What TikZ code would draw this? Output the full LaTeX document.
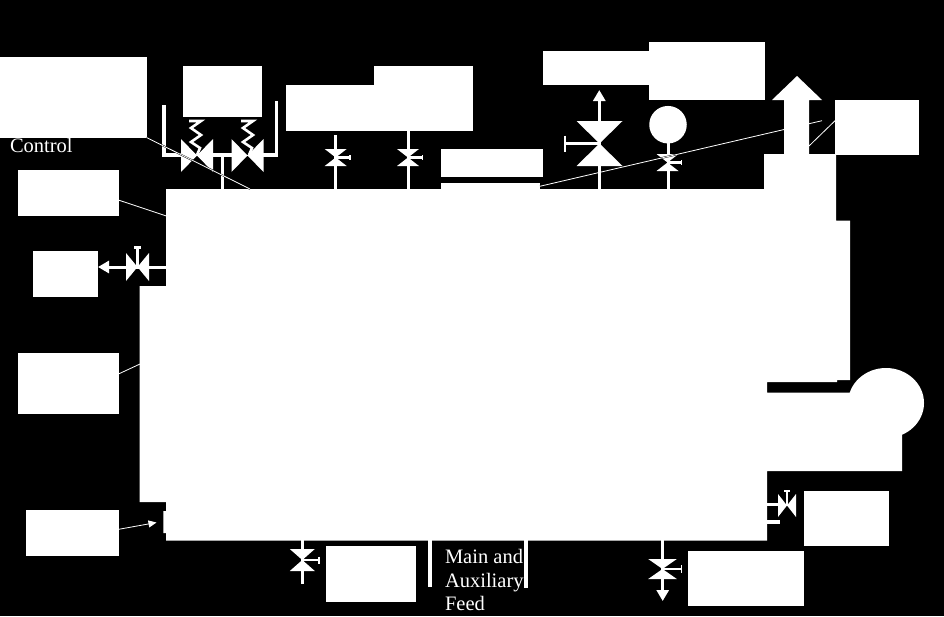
\documentclass[tikz,border=0pt]{standalone}
\usepackage{fontspec}
\setmainfont{Liberation Serif}
\usetikzlibrary{arrows.meta,shapes.geometric}
\definecolor{ink}{gray}{1}
\tikzset{
  x=1pt,y=-1pt,
  whitebox/.style={fill=ink,draw=none,inner sep=0pt,outer sep=0pt,anchor=north west},
  pipe/.style={draw=ink,line width=3.4pt,line cap=butt,line join=miter},
  thinpipe/.style={draw=ink,line width=3pt},
  handlebar/.style={draw=ink,line width=2.6pt},
  leaderline/.style={draw=ink,line width=0.8pt},
  cased/.style={preaction={draw=black,line width=1.6pt}},
  flowtip/.style={-{Triangle[width=12pt,length=11pt,fill=ink]}},
  labeltext/.style={text=ink,inner sep=0pt,outer sep=0pt,anchor=base west,font=\fontsize{20.5}{24}\selectfont},
  springline/.style={draw=ink,line width=2.6pt,line join=miter}
}
% box: name, x1, y1, x2, y2
\newcommand{\plainbox}[5]{%
  \pgfmathsetmacro{\bw}{#4-#2}\pgfmathsetmacro{\bh}{#5-#3}%
  \node[whitebox,minimum width=\bw pt,minimum height=\bh pt] (#1) at (#2,#3) {};}
% bowtie on a vertical pipe: cx, cy, half width, half height
\newcommand{\bowV}[4]{\fill[ink] (#1-#3,#2-#4) -- (#1+#3,#2-#4) -- (#1-#3,#2+#4) -- (#1+#3,#2+#4) -- cycle;}
% bowtie on a horizontal pipe
\newcommand{\bowH}[4]{\fill[ink] (#1-#3,#2-#4) -- (#1+#3,#2+#4) -- (#1+#3,#2-#4) -- (#1-#3,#2+#4) -- cycle;}
\newcommand{\springat}[1]{\draw[springline] (#1-8,121) -- (#1+4,121) -- (#1-6,128) -- (#1+4,135) -- (#1-6,142) -- (#1+3,148) -- (#1,155);}
\begin{document}
\begin{tikzpicture}
\fill[black] (0,0) rectangle (944,616);
\useasboundingbox (0,0) rectangle (944,616);

% labelled boxes
\plainbox{boxA}{0}{57}{146.5}{137.5}
\plainbox{boxB}{182.5}{66}{262}{117}
\plainbox{boxC}{18}{170}{119}{215.5}
\plainbox{boxD}{33}{251}{98}{297}
\plainbox{boxE}{18}{352.5}{119}{414}
\plainbox{boxF}{26}{510}{119}{555.5}
\plainbox{boxG}{326}{546}{415.5}{601.5}
\plainbox{boxH}{688}{551}{804}{606}
\plainbox{boxI}{804}{491}{889}{546}
\plainbox{boxJ}{835}{99.5}{919}{155}
\plainbox{boxK}{286}{85}{375}{130.5}
\plainbox{boxKb}{374}{66}{473}{130.5}
\plainbox{boxL}{542.5}{51}{650}{85}
\plainbox{boxLb}{649}{42}{765}{99.5}
\plainbox{boxM}{441}{148.5}{542.5}{177}
\plainbox{stripM}{440.5}{182.5}{540}{190}

% small gate valve at the top right (drawn before the long leader crosses it)
\node[whitebox,circle,anchor=center,minimum size=37.5pt] (gauge) at (668,124.7) {};
\coordinate (gaugeFoot) at (668,190);
\draw[thinpipe] (gauge) -- (gaugeFoot);
\bowV{667.5}{162.5}{11}{8.5}
\coordinate (gaugeCap) at (682,162.3);
\draw[handlebar] (667.5,162.3) -- (gaugeCap);
\draw[handlebar,line width=1.5pt] (681.5,160) -- (681.5,164.6);

% long leader to the far side of the stack
\coordinate (stackLabelEnd) at (822,120.7);
\draw[leaderline,cased] (stripM.east) -- (stackLabelEnd);

% boiler body with stack, superheater step and drum
\fill[ink] (166,189) -- (764,189) -- (764,154) -- (784,154) -- (784,100) -- (772,100)
  -- (797,76) -- (822,100) -- (809,100) -- (809,154) -- (836,154) -- (836,220.5)
  -- (850,220.5) -- (850,380) -- (837,380) -- (837,382) -- (767,382) -- (767,392.7)
  -- (850,392.7) -- (902,392.7) -- (902,471) -- (767,471) -- (767,540.5) -- (166,540.5)
  -- (166,533) -- (163.3,533) -- (163.3,511) -- (166,511) -- (166,502) -- (139.7,502)
  -- (139.7,286) -- (166,286) -- cycle;
\node[whitebox,ellipse,anchor=center,minimum width=76pt,minimum height=70pt] (drum) at (886,403) {};

% safety valves
\coordinate (ventL) at (164,105);
\coordinate (ventR) at (276.7,101);
\draw[pipe] (ventL) |- (181,155);
\draw[pipe] (ventR) |- (263,155);
\draw[pipe] (213,155) -- (232,155);
\draw[pipe] (222.3,155) -- (222.3,190);
\bowH{197}{155.5}{16}{16.5}
\bowH{247.5}{155.5}{16}{16.5}
\springat{197}
\springat{249}
\coordinate (boilerA) at (250,189);
\draw[leaderline,cased] (boxA.south east) -- (boilerA);

% two small top valves
\coordinate (sampleTop) at (335.7,135);
\coordinate (sampleFoot) at (335.7,190);
\draw[thinpipe] (sampleTop) -- (sampleFoot);
\bowV{335.7}{157.5}{11}{8.5}
\draw[handlebar] (335.7,157.5) -- (350,157.5);
\draw[handlebar,line width=1.5pt] (350,155) -- (350,160);
\draw[thinpipe] (boxKb.south -| 408,130) -- (408,190);
\bowV{408}{157.5}{11}{8.5}
\draw[handlebar] (408,157.5) -- (422.5,157.5);
\draw[handlebar,line width=1.5pt] (422.5,155) -- (422.5,160);

% main stop valve
\coordinate (steamOut) at (599.3,90);
\coordinate (steamFoot) at (599.3,190);
\draw[pipe,flowtip] (steamFoot) -- (steamOut);
\bowV{599.5}{143.5}{23}{22.5}
\draw[pipe,line width=2.8pt] (599.5,143.5) -- (565,143.5);
\draw[pipe,line width=2.8pt] (565,135.5) -- (565,151.5);

% left drain valve
\coordinate (leftTap) at (167,267);
\draw[thinpipe,flowtip] (leftTap) -- (boxD.east |- leftTap);
\bowH{137.5}{267}{11.5}{14}
\draw[handlebar] (137.5,267) -- (137.5,248);
\draw[handlebar] (134,247.5) -- (141,247.5);

% bottom left valve
\coordinate (blowA) at (302.3,539);
\coordinate (blowB) at (302.3,584);
\draw[thinpipe] (blowA) -- (blowB);
\bowV{302.3}{560}{12.5}{11}
\draw[handlebar] (302.3,560) -- (319,560);
\draw[handlebar,line width=1.6pt] (319,556.5) -- (319,563.5);

% feed stubs
\coordinate (feedA) at (430,539);
\coordinate (feedB) at (526,539);
\draw[pipe,line width=3.6pt] (feedA) -- (430,586.5);
\draw[pipe,line width=3.6pt] (feedB) -- (526,588);
\node[labeltext] (feedlabelA) at (445,563) {Main and};
\node[labeltext] (feedlabelB) at (445,587) {Auxiliary};
\node[labeltext] (feedlabelC) at (445,610.5) {Feed};
\node[labeltext] (controlLabel) at (10,152) {Control};

% bottom right drain
\coordinate (drainA) at (662.7,539);
\coordinate (drainB) at (662.7,601);
\draw[thinpipe,line width=3.4pt,flowtip] (drainA) -- (drainB);
\bowV{662.5}{569}{14.3}{10}
\draw[handlebar] (662.5,569) -- (681,569);
\draw[handlebar,line width=1.8pt] (681.5,565) -- (681.5,573);

% right side stubs
\coordinate (sideA) at (766,504.5);
\coordinate (sideB) at (766,522);
\draw[thinpipe] (sideA) -- (779,504.5);
\draw[pipe] (sideB) -- (780,522);
\bowH{787}{505.5}{9}{11.5}
\draw[handlebar,line width=2pt] (787,505) -- (787,491.5);
\draw[handlebar,line width=2pt] (784,491) -- (790,491);

% leaders
\coordinate (boilerC) at (166.5,216);
\coordinate (boilerE) at (140,364);
\coordinate (boilerF) at (156.5,522.5);
\coordinate (stackSide) at (809,146);
\draw[leaderline] ([yshift=-7.5pt]boxC.east) -- (boilerC);
\draw[leaderline] ([yshift=9.5pt]boxE.east) -- (boilerE);
\draw[leaderline,-{Triangle[length=8pt,width=7pt,fill=ink]}] ([yshift=3.5pt]boxF.east) -- (boilerF);
\draw[leaderline] ([yshift=6.5pt]boxJ.west) -- (stackSide);
\end{tikzpicture}
\end{document}
